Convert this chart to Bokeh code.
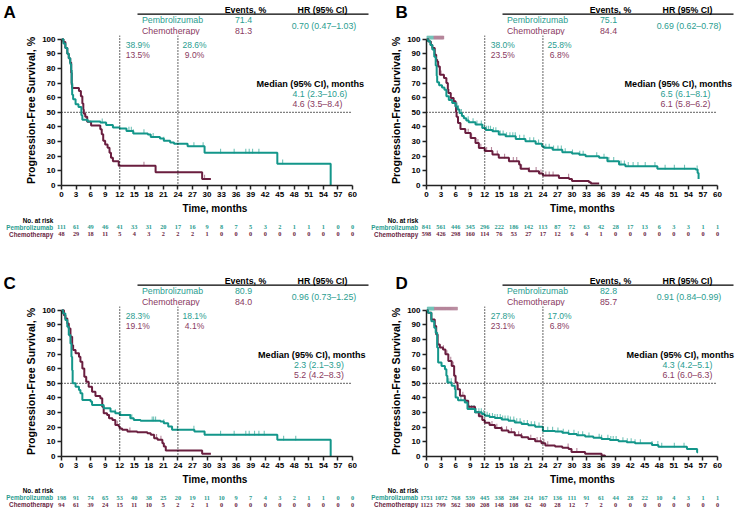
import numpy as np
from bokeh.plotting import figure
from bokeh.layouts import column, row
from bokeh.models import ColumnDataSource, Label, LabelSet, FixedTicker, Span
from bokeh.embed import file_html
from bokeh.resources import INLINE

# ---------------- data ----------------
x_ticks = [0, 3, 6, 9, 12, 15, 18, 21, 24, 27, 30, 33, 36, 39, 42, 45, 48, 51, 54, 57, 60]
y_ticks = [0, 10, 20, 30, 40, 50, 60, 70, 80, 90, 100]
landmarks = [12, 24]
median_level = 50
arm_names = ["Pembrolizumab", "Chemotherapy"]

# Panel A
a_pem_t = [0, 0.4, 0.8, 1.2, 1.5, 1.8, 2.0, 2.1, 2.2, 2.4, 2.9, 3.5, 4.1, 4.3, 5.4, 8.0, 9.2, 10.6, 12.0, 13.4, 14.8, 17.8, 18.4, 20.3, 21.1, 22.4, 23.2, 26.0, 29.5, 44.5, 55.5]
a_pem_s = [100, 97, 94, 90, 87, 83, 79, 70, 62, 59, 55.5, 53.6, 48, 45, 43.8, 43.0, 41.4, 39.6, 38.9, 37.3, 35.6, 34.8, 33.1, 32.2, 30.5, 29.3, 28.6, 26.8, 22.3, 14.9, 0]
a_pem_cens = [8.4, 13.9, 14.4, 14.8, 17.0, 18.9, 21.1, 27.3, 29.2, 32.8, 35.6, 38.0, 38.7, 39.4, 40.7, 45.6]
a_chemo_t = [0, 0.4, 0.8, 1.2, 1.5, 1.8, 2.0, 2.1, 2.2, 3.6, 4.0, 4.3, 4.5, 4.6, 4.9, 5.3, 6.1, 8.0, 8.3, 8.6, 9.0, 9.5, 9.9, 10.2, 10.6, 11.8, 19.4, 29.0, 30.8]
a_chemo_s = [100, 98, 94, 90, 87, 84, 77, 69, 66.7, 64.5, 61, 56, 52, 49, 47, 43.5, 41, 38.5, 35, 30.5, 28, 25.8, 22.4, 19, 16.5, 13.5, 9.0, 4.5, 4.5]
a_chemo_cens = [4.9, 10.3, 17.0, 29.5]
a_events = ["71.4", "81.3"]
a_hr = "0.70 (0.47\u20131.03)"
a_lm_pem = ["38.9%", "28.6%"]
a_lm_chemo = ["13.5%", "9.0%"]
a_median = ["4.1 (2.3\u201310.6)", "4.6 (3.5\u20138.4)"]
a_risk_pem = [111, 61, 49, 46, 41, 33, 31, 20, 17, 16, 9, 8, 7, 5, 3, 2, 1, 1, 1, 0, 0]
a_risk_chemo = [48, 29, 18, 11, 5, 4, 3, 2, 2, 2, 1, 0, 0, 0, 0, 0, 0, 0, 0, 0, 0]

# Panel B
b_pem_t = [0, 0.3, 0.8, 1.2, 1.6, 1.9, 2.1, 2.2, 2.6, 3.2, 3.7, 4.1, 4.6, 5.3, 6.0, 6.4, 6.8, 7.3, 7.7, 8.2, 8.7, 10.1, 11.5, 12.2, 13.6, 14.9, 16.3, 18.4, 20.4, 22.5, 23.8, 24.2, 26.0, 28.0, 30.0, 31.5, 32.8, 35.6, 37.3, 39.7, 41.0, 47.6, 55.5, 55.9, 56.1]
b_pem_s = [100, 98.5, 96, 93, 88, 82, 75, 70.5, 68.5, 67, 65.5, 61, 58.5, 56.4, 54, 52, 49.5, 47.5, 46, 44.5, 43.2, 41.6, 39.3, 38.0, 37, 34.8, 33.6, 31.8, 30.2, 28.6, 26.8, 25.8, 24.5, 22.7, 21.8, 21.0, 20.0, 18.9, 16.6, 14.3, 13.2, 11.4, 10.9, 8.6, 4.5]
b_pem_cens = [6.3, 6.6, 7.2, 8.6, 9.6, 10.4, 11.3, 11.9, 12.4, 12.8, 13.2, 13.8, 14.3, 15.2, 15.8, 16.5, 17.2, 17.8, 18.3, 19.2, 20.1, 21.3, 22.1, 23.1, 24.6, 25.3, 26.2, 27.1, 27.8, 28.6, 30.1, 31.6, 32.3, 35.1, 36.6, 37.6, 38.6, 40.1, 40.8, 41.6, 42.6, 43.6, 45.1, 47.1, 49.2, 51.1, 53.2, 55.8]
b_pem_top = [0.1, 0.2, 0.3, 0.4, 0.5, 0.6, 0.7, 0.8, 0.9, 1.0, 1.1, 1.2, 1.3, 1.4, 1.5]
b_chemo_t = [0, 0.4, 0.9, 1.2, 1.7, 2.0, 2.2, 2.4, 2.75, 3.6, 4.1, 4.4, 4.5, 5.0, 5.6, 6.0, 6.1, 6.2, 6.5, 7.0, 8.0, 9.1, 10.1, 10.8, 12.0, 13.6, 14.9, 17.0, 19.1, 19.4, 21.1, 23.2, 24.0, 27.3, 29.4, 30.0, 33.5, 33.9, 35.6]
b_chemo_s = [100, 98.4, 96, 94, 89.3, 86, 84.8, 81.4, 75.7, 73.4, 70, 66, 63.2, 59.8, 57.5, 54, 50, 47, 42.7, 38.6, 35.9, 32.5, 29, 25.7, 23.5, 21.1, 18.9, 16.6, 14.3, 11.5, 9.8, 8.2, 6.8, 5.2, 4.5, 3.0, 2.3, 1.4, 1.4]
b_chemo_cens = [3.0, 6.6, 8.6, 9.3, 10.6, 11.2, 12.4, 13.4, 14.6, 16.1, 17.9, 18.6, 19.6, 21.2, 22.6, 23.6, 24.6, 25.3, 26.1, 29.3]
b_chemo_top = [1.6, 1.7, 1.8, 1.9, 2.0, 2.1, 2.2, 2.3, 2.4, 2.5, 2.6, 2.7, 2.8, 2.9, 3.0, 3.1, 3.2, 3.3, 3.4, 3.5]
b_events = ["75.1", "84.4"]
b_hr = "0.69 (0.62\u20130.78)"
b_lm_pem = ["38.0%", "25.8%"]
b_lm_chemo = ["23.5%", "6.8%"]
b_median = ["6.5 (6.1\u20138.1)", "6.1 (5.8\u20136.2)"]
b_risk_pem = [841, 561, 446, 345, 296, 222, 186, 142, 113, 87, 72, 63, 42, 28, 17, 13, 6, 3, 3, 1, 1]
b_risk_chemo = [598, 426, 298, 160, 114, 76, 53, 27, 17, 12, 6, 4, 1, 0, 0, 0, 0, 0, 0, 0, 0]

# Panel C
c_pem_t = [0, 0.3, 0.8, 1.2, 1.5, 1.85, 2.05, 2.2, 2.3, 2.9, 3.6, 3.9, 4.3, 6.0, 6.3, 8.7, 10.1, 11.1, 12.0, 14.2, 14.9, 16.3, 20.4, 21.1, 22.0, 22.8, 27.4, 29.5, 44.5, 55.5]
c_pem_s = [100, 97.7, 93.2, 88.6, 83, 77.3, 68.2, 59, 50, 47.7, 45.5, 43.2, 38.6, 37.5, 35.2, 33, 30.7, 29.5, 28.3, 26.1, 25, 24.5, 23.9, 22.7, 20.5, 18.2, 17, 14.8, 11.4, 0]
c_pem_cens = [11.1, 12.2, 14.2, 14.5, 18.7, 19.0, 19.4, 21.1, 23.9, 27.3, 29.5, 32.8, 35.6, 38.0, 38.7, 39.8, 40.7, 41.8, 45.8, 48.3]
c_chemo_t = [0, 0.5, 0.8, 1.2, 1.5, 1.85, 2.2, 2.4, 2.9, 3.6, 3.9, 4.3, 4.7, 5.1, 5.6, 6.3, 7.0, 8.0, 8.4, 8.7, 9.4, 9.8, 10.5, 11.1, 11.8, 12.0, 12.5, 13.6, 15.6, 17.7, 18.4, 19.1, 19.8, 20.8, 21.1, 21.5, 29.0, 30.8]
c_chemo_s = [100, 96.6, 94.3, 90.9, 87.5, 81.8, 76, 72.7, 70.5, 68.2, 64.8, 60.2, 54.5, 51, 47.7, 44.3, 41.4, 39.8, 34, 29.5, 28.4, 26.1, 25, 21.6, 20.5, 19.1, 18.2, 17, 16.6, 15.9, 14.8, 12.5, 11.4, 9.1, 6.8, 4.1, 1.9, 1.9]
c_chemo_cens = [3.6, 5.1, 9.9, 11.5, 14.1, 19.6, 20.5]
c_events = ["80.9", "84.0"]
c_hr = "0.96 (0.73\u20131.25)"
c_lm_pem = ["28.3%", "18.1%"]
c_lm_chemo = ["19.1%", "4.1%"]
c_median = ["2.3 (2.1\u20133.9)", "5.2 (4.2\u20138.3)"]
c_risk_pem = [198, 91, 74, 65, 53, 40, 38, 25, 20, 19, 11, 10, 9, 7, 4, 3, 2, 1, 1, 0, 0]
c_risk_chemo = [94, 61, 39, 24, 15, 11, 10, 5, 2, 2, 1, 0, 0, 0, 0, 0, 0, 0, 0, 0, 0]

# Panel D
d_pem_t = [0, 0.3, 1.0, 1.6, 1.9, 2.2, 2.4, 3.1, 3.8, 4.1, 4.3, 5.2, 5.85, 6.0, 6.5, 7.9, 8.45, 10.0, 11.4, 12.0, 13.0, 14.1, 15.5, 16.9, 18.2, 19.6, 21.0, 22.4, 24.0, 26.5, 28.0, 29.3, 31.0, 32.7, 34.4, 36.1, 37.8, 39.6, 41.3, 43.0, 46.5, 47.8, 53.7, 55.8, 56.0]
d_pem_s = [100, 98.2, 92.5, 88, 84.6, 74.4, 64.2, 61.9, 59.6, 55.1, 50.6, 48.3, 46, 40.4, 38.5, 36.9, 32.4, 30.2, 29, 27.8, 27.0, 26.3, 25.3, 24.5, 23.3, 22.2, 21.3, 20.4, 17.5, 17.0, 16.2, 15.4, 14.5, 13.6, 12.8, 12.0, 11.2, 10.4, 9.7, 9.0, 7.8, 6.6, 5.2, 2.9, 2.9]
d_pem_cens = [4.6, 5.1, 7.1, 8.1, 8.8, 9.3, 9.8, 10.3, 10.8, 11.3, 11.8, 12.5, 13.0, 13.6, 14.1, 14.6, 15.2, 15.7, 16.2, 16.8, 17.3, 18.0, 18.6, 19.3, 20.1, 20.8, 21.6, 22.3, 23.2, 24.1, 25.0, 26.0, 27.1, 28.2, 29.3, 30.4, 31.3, 32.2, 33.5, 35.6, 36.1, 37.4, 38.0, 38.5, 39.1, 40.5, 41.4, 42.2, 43.0, 44.1, 46.5, 47.7, 48.5, 51.1, 53.1]
d_pem_top = [0.2, 0.3, 0.4, 0.5, 0.6, 0.7, 0.8, 0.9, 1.0, 1.1, 1.2, 1.3, 1.4, 1.5, 1.6]
d_chemo_t = [0, 0.3, 1.0, 1.7, 2.0, 2.3, 2.75, 3.4, 3.9, 4.5, 5.2, 5.7, 6.0, 6.4, 6.9, 7.9, 8.6, 10.0, 10.8, 11.5, 12.0, 13.0, 14.1, 15.5, 16.9, 18.2, 19.6, 21.0, 22.4, 23.7, 24.5, 26.5, 28.0, 29.3, 29.9, 32.7, 36.1, 36.8]
d_chemo_s = [100, 98.2, 93.6, 89.1, 83.4, 76.6, 74.4, 73.2, 69.8, 65.3, 61.9, 55.1, 50.6, 46, 41.5, 38.1, 34, 30.2, 27.5, 25.0, 23.1, 21.5, 19.5, 17.8, 16.6, 14.5, 13.2, 12.0, 10.5, 9.0, 7.6, 6.8, 6.0, 5.2, 3.0, 1.8, 0.7, 0]
d_chemo_cens = [3.5, 4.2, 5.0, 5.5, 6.5, 7.5, 10.1, 11.1, 13.5, 14.5, 15.5, 16.5, 17.5, 19.0, 19.6, 21.5, 22.8, 23.5, 24.2, 25.0, 29.2, 31.0]
d_chemo_top = [1.7, 1.9, 2.1, 2.3, 2.5, 2.7, 2.9, 3.1, 3.3, 3.5, 3.7, 3.9, 4.1, 4.3, 4.5, 4.7, 4.9, 5.1, 5.3, 5.5, 5.7, 5.9, 6.1, 6.3]
d_events = ["82.8", "85.7"]
d_hr = "0.91 (0.84\u20130.99)"
d_lm_pem = ["27.8%", "17.0%"]
d_lm_chemo = ["23.1%", "6.8%"]
d_median = ["4.3 (4.2\u20135.1)", "6.1 (6.0\u20136.3)"]
d_risk_pem = [1751, 1072, 768, 539, 445, 338, 284, 214, 167, 136, 111, 91, 61, 44, 28, 22, 10, 4, 3, 1, 1]
d_risk_chemo = [1123, 799, 562, 300, 208, 148, 108, 62, 40, 28, 12, 7, 2, 0, 0, 0, 0, 0, 0, 0, 0]

# ---------------- style / layout ----------------
FONT = "Liberation Sans"
PEM = "#13968A"
PEM_TXT = "#2A9D90"
PEM_CENS = "#72C3B8"
CHEMO = "#6A1E3F"
CHEMO_TXT = "#8A3A61"
CHEMO_CENS = "#B5869B"
DOT = "1 2"

PANEL_W = 370
PPX = 4.85            # px per month
FRAME_H = 150
Y_TOP = 102.5         # top of the plotting frame, %
PPY = FRAME_H / Y_TOP
BOTTOM_BORDER = 31


def mo(px):
    return px / PPX


def pc(px):
    return px / PPY


def surv_at(t, s, q):
    t = np.asarray(t, dtype=float)
    s = np.asarray(s, dtype=float)
    idx = np.searchsorted(t, np.asarray(q, dtype=float), side="right") - 1
    return s[np.clip(idx, 0, len(s) - 1)]


def lab(p, x, y, text, size, color="black", bold=False, align="left"):
    p.add_layout(Label(x=x, y=y, text=text, text_font=FONT, text_font_size=size,
                       text_font_style="bold" if bold else "normal", text_color=color,
                       text_align=align, text_baseline="middle"))


def blank(left_px, height, flip=False):
    xr = (-left_px / PPX, (PANEL_W - left_px) / PPX)
    yr = (height, 0) if flip else (0, height)
    p = figure(width=PANEL_W, height=height, x_range=xr, y_range=yr,
               x_axis_location=None, y_axis_location=None,
               min_border=0, min_border_left=0, min_border_right=0,
               min_border_top=0, min_border_bottom=0, frame_align=False,
               output_backend="svg", toolbar_location=None, title=None)
    p.outline_line_color = None
    p.grid.visible = False
    return p


def header_fig(left_px, height, letter, letter_dx, events, hr):
    p = blank(left_px, height)
    lab(p, mo(letter_dx), 23.5, letter, "17px", bold=True)
    lab(p, mo(184), 26, "Events, %", "8.8px", bold=True, align="center")
    lab(p, mo(261), 26, "HR (95% CI)", "8.8px", bold=True, align="center")
    p.segment(x0=mo(76), y0=21.3, x1=mo(307), y1=21.3, line_color="black", line_width=1.3)
    lab(p, mo(80.5), 15.5, arm_names[0], "8.8px", color=PEM_TXT)
    lab(p, mo(80.5), 4.8, arm_names[1], "8.8px", color=CHEMO_TXT)
    lab(p, mo(182), 15.5, events[0], "8.8px", color=PEM_TXT, align="center")
    lab(p, mo(182), 4.8, events[1], "8.8px", color=CHEMO_TXT, align="center")
    lab(p, mo(262.5), 10, hr, "8.8px", color=PEM_TXT, align="center")
    return p


def risk_fig(left_px, height, risk_pem, risk_chemo, y0):
    p = blank(left_px, height, flip=True)
    lab(p, mo(-8.3), y0, "No. at risk", "6.3px", bold=True, align="right")
    for name, vals, yy, col in ((arm_names[0], risk_pem, y0 + 7, PEM_TXT),
                                (arm_names[1], risk_chemo, y0 + 14, CHEMO)):
        lab(p, mo(-8.3), yy, name, "6.3px", color=col, bold=True, align="right")
        src = ColumnDataSource(dict(x=x_ticks, y=[yy] * len(x_ticks), t=[str(v) for v in vals]))
        p.add_layout(LabelSet(x="x", y="y", text="t", source=src, text_font=FONT,
                              text_font_size="6.3px", text_font_style="bold", text_color=col,
                              text_align="center", text_baseline="middle"))
    return p


def main_fig(left_px, pem_t, pem_s, pem_c, pem_top, chemo_t, chemo_s, chemo_c, chemo_top,
             lm_pem, lm_chemo, med, med_dx):
    frame_w = PANEL_W - left_px - 2
    p = figure(width=PANEL_W, height=FRAME_H + BOTTOM_BORDER,
               x_range=(0, frame_w / PPX), y_range=(0, Y_TOP),
               output_backend="svg", toolbar_location=None, title=None,
               min_border_left=left_px, min_border_right=2, frame_align=False,
               min_border_top=0, min_border_bottom=BOTTOM_BORDER)
    p.outline_line_color = None
    p.grid.visible = False

    p.xaxis.ticker = FixedTicker(ticks=x_ticks)
    p.yaxis.ticker = FixedTicker(ticks=y_ticks)
    p.xaxis.bounds = (x_ticks[0], x_ticks[-1])
    p.yaxis.bounds = (y_ticks[0], y_ticks[-1])
    for ax in (p.xaxis, p.yaxis):
        ax.axis_line_width = 1.5
        ax.axis_line_color = "#222222"
        ax.major_tick_line_width = 1.5
        ax.major_tick_line_color = "#222222"
        ax.major_tick_out = 4
        ax.major_tick_in = 0
        ax.minor_tick_out = 0
        ax.minor_tick_in = 0
        ax.major_label_text_font = FONT
        ax.major_label_text_font_style = "bold"
        ax.major_label_text_font_size = "8px"
        ax.major_label_text_color = "black"
        ax.major_label_standoff = 2
        ax.axis_label_text_font = FONT
        ax.axis_label_text_font_style = "bold"
        ax.axis_label_text_color = "black"
    p.xaxis.axis_label = "Time, months"
    p.xaxis.axis_label_text_font_size = "10px"
    p.xaxis.axis_label_standoff = 3
    p.yaxis.axis_label = "Progression-Free Survival, %"
    p.yaxis.axis_label_text_font_size = "10.6px"
    p.yaxis.axis_label_standoff = 2

    for lm in landmarks:
        p.add_layout(Span(location=lm, dimension="height", line_color="black",
                          line_width=1.2, line_dash=DOT))
    p.segment(x0=x_ticks[0], y0=median_level, x1=x_ticks[-1], y1=median_level,
              line_color="black", line_width=1.2, line_dash=DOT)

    for t, s, c, top, col in ((pem_t, pem_s, pem_c, pem_top, PEM_CENS),
                              (chemo_t, chemo_s, chemo_c, chemo_top, CHEMO_CENS)):
        cy = surv_at(t, s, c)
        p.segment(x0=c, y0=cy - 0.4, x1=c, y1=cy + 2.8, line_color=col, line_width=1.1)
        if top:
            ty = np.full(len(top), float(y_ticks[-1]))
            p.segment(x0=top, y0=ty, x1=top, y1=ty + 2.3, line_color=col, line_width=1.4)

    p.step(chemo_t, chemo_s, mode="after", line_color=CHEMO, line_width=2)
    p.step(pem_t, pem_s, mode="after", line_color=PEM, line_width=2)

    for i, cx in enumerate((76.3, 133)):
        lab(p, mo(cx), pc(141), lm_pem[i], "8.5px", color=PEM_TXT, align="center")
        lab(p, mo(cx), pc(131), lm_chemo[i], "8.5px", color=CHEMO_TXT, align="center")

    lab(p, mo(med_dx), pc(101.8), "Median (95% CI), months", "9.1px", bold=True)
    lab(p, mo(med_dx + 36), pc(91.5), med[0], "8.8px", color=PEM_TXT)
    lab(p, mo(med_dx + 36), pc(81.5), med[1], "8.8px", color=CHEMO_TXT)
    return p


L_LEFT, L_RIGHT = 61, 56
TOP_HDR, BOT_HDR = 35, 52
TOP_RISK = 254 - TOP_HDR - FRAME_H - BOTTOM_BORDER
BOT_RISK = 508 - 254 - BOT_HDR - FRAME_H - BOTTOM_BORDER

colA = column(header_fig(L_LEFT, TOP_HDR, "A", -58, a_events, a_hr),
              main_fig(L_LEFT, a_pem_t, a_pem_s, a_pem_cens, None, a_chemo_t, a_chemo_s, a_chemo_cens, None,
                       a_lm_pem, a_lm_chemo, a_median, 195),
              risk_fig(L_LEFT, TOP_RISK, a_risk_pem, a_risk_chemo, 3.5))
colB = column(header_fig(L_RIGHT, TOP_HDR, "B", -31, b_events, b_hr),
              main_fig(L_RIGHT, b_pem_t, b_pem_s, b_pem_cens, b_pem_top, b_chemo_t, b_chemo_s, b_chemo_cens, b_chemo_top,
                       b_lm_pem, b_lm_chemo, b_median, 198),
              risk_fig(L_RIGHT, TOP_RISK, b_risk_pem, b_risk_chemo, 3.5))
colC = column(header_fig(L_LEFT, BOT_HDR, "C", -58, c_events, c_hr),
              main_fig(L_LEFT, c_pem_t, c_pem_s, c_pem_cens, None, c_chemo_t, c_chemo_s, c_chemo_cens, None,
                       c_lm_pem, c_lm_chemo, c_median, 196.5),
              risk_fig(L_LEFT, BOT_RISK, c_risk_pem, c_risk_chemo, 3))
colD = column(header_fig(L_RIGHT, BOT_HDR, "D", -31, d_events, d_hr),
              main_fig(L_RIGHT, d_pem_t, d_pem_s, d_pem_cens, d_pem_top, d_chemo_t, d_chemo_s, d_chemo_cens, d_chemo_top,
                       d_lm_pem, d_lm_chemo, d_median, 200),
              risk_fig(L_RIGHT, BOT_RISK, d_risk_pem, d_risk_chemo, 3))

layout = column(row(colA, colB), row(colC, colD))
open("out.html", "w").write(file_html(layout, INLINE))
